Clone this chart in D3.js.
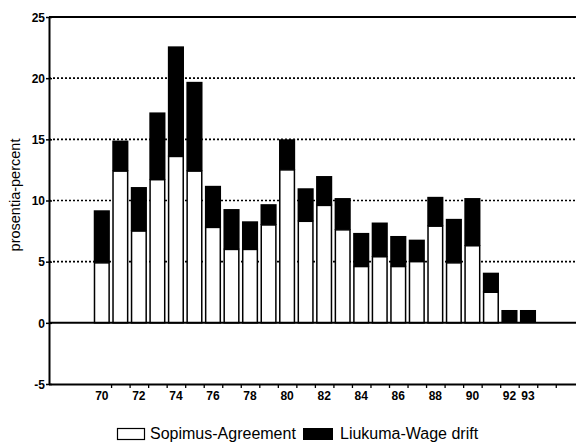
<!DOCTYPE html>
<html>
<head>
<meta charset="utf-8">
<script src="https://cdn.jsdelivr.net/npm/d3@7"></script>
<style>
  html, body { margin: 0; padding: 0; background: #fff; }
  svg { display: block; }
  text { font-family: "Liberation Sans", Arial, Helvetica, sans-serif; fill: #000; }
</style>
</head>
<body>
<svg id="chart" width="576" height="442"></svg>
<script>
const years = [70,71,72,73,74,75,76,77,78,79,80,81,82,83,84,85,86,87,88,89,90,91,92,93];
const agreement = [4.9,12.4,7.5,11.7,13.6,12.4,7.8,6.0,6.0,8.0,12.5,8.3,9.6,7.6,4.6,5.4,4.6,5.0,7.9,4.9,6.3,2.5,0,0];
const wageDrift = [4.3,2.5,3.6,5.5,9.0,7.3,3.4,3.3,2.3,1.7,2.5,2.7,2.4,2.6,2.75,2.8,2.5,1.8,2.4,3.6,3.9,1.6,1.05,1.05];
const xTickLabels = [70,72,74,76,78,80,82,84,86,88,90,92,93];
const yTicks = [-5,0,5,10,15,20,25];
const gridValues = [5,10,15,20];
const seriesNames = ["Sopimus-Agreement", "Liukuma-Wage drift"];
const yTitle = "prosentia-percent";

const svg = d3.select("#chart");
const mLeft = 49, mRight = 578, mTop = 17, mBottom = 384;

const x = d3.scaleLinear().domain([67.15, 95.7]).range([mLeft, mRight]);
const y = d3.scaleLinear().domain([-5, 25]).range([mBottom, mTop]);
const step = x(71) - x(70);
const bw = step - 2.4;

// gridlines
svg.append("g").selectAll("line").data(gridValues).join("line")
  .attr("x1", mLeft).attr("x2", 576)
  .attr("y1", d => y(d)).attr("y2", d => y(d))
  .attr("stroke", "#000").attr("stroke-width", 1.6)
  .attr("stroke-dasharray", "2,2");

// top line
svg.append("line").attr("x1", mLeft).attr("x2", 576).attr("y1", y(25)).attr("y2", y(25))
  .attr("stroke", "#000").attr("stroke-width", 2);

// bars
const data = years.map((yr, i) => ({ yr, a: agreement[i], d: wageDrift[i] }));
const g = svg.append("g");
g.selectAll("rect.drift").data(data).join("rect").attr("class", "drift")
  .attr("x", d => x(d.yr) - bw / 2)
  .attr("width", bw)
  .attr("y", d => y(d.a + d.d))
  .attr("height", d => y(d.a) - y(d.a + d.d))
  .attr("fill", "#000");
g.selectAll("rect.agr").data(data.filter(d => d.a > 0)).join("rect").attr("class", "agr")
  .attr("x", d => x(d.yr) - bw / 2 + 0.75)
  .attr("width", bw - 1.5)
  .attr("y", d => y(d.a))
  .attr("height", d => y(0) - y(d.a))
  .attr("fill", "#fff").attr("stroke", "#000").attr("stroke-width", 1.5);

// zero line on top
svg.append("line").attr("x1", mLeft).attr("x2", 576).attr("y1", y(0)).attr("y2", y(0))
  .attr("stroke", "#000").attr("stroke-width", 2);

// left axis
const yAxis = d3.axisLeft(y).tickValues(yTicks).tickFormat(d => String(d))
  .tickSize(4).tickSizeOuter(0).tickPadding(2);
const ya = svg.append("g").attr("transform", `translate(${mLeft},0)`).call(yAxis);
ya.select(".domain").attr("stroke-width", 2);
ya.selectAll(".tick line").attr("stroke-width", 1.5).attr("x2", 3).attr("x1", -3);
ya.selectAll("text").style("font-size", "12px").style("font-weight", "bold")
  .attr("x", -4).attr("dy", "0.35em");

// bottom axis
const boundaries = d3.range(70.5, 95, 1);
const xb = d3.axisBottom(x).tickValues(boundaries).tickSize(4).tickSizeOuter(0).tickFormat("");
const xa = svg.append("g").attr("transform", `translate(0,${mBottom})`).call(xb);
xa.select(".domain").attr("stroke-width", 2).attr("d", `M${mLeft},0.5H576`);
xa.selectAll(".tick line").attr("stroke-width", 1.3);

svg.append("g").selectAll("text").data(xTickLabels).join("text")
  .attr("x", d => x(d))
  .attr("y", 400)
  .attr("text-anchor", "middle")
  .style("font-size", "12px")
  .style("font-weight", "bold")
  .text(d => d);

// y title
svg.append("text")
  .attr("transform", `translate(20,195) rotate(-90)`)
  .attr("text-anchor", "middle")
  .style("font-size", "14.5px")
  .text(yTitle);

// legend
const lg = svg.append("g");
lg.append("rect").attr("x", 117.5).attr("y", 428.5).attr("width", 27).attr("height", 11)
  .attr("fill", "#fff").attr("stroke", "#000").attr("stroke-width", 1.2);
lg.append("text").attr("x", 150).attr("y", 439).style("font-size", "16px").text(seriesNames[0]);
lg.append("rect").attr("x", 303).attr("y", 428).attr("width", 30).attr("height", 12).attr("fill", "#000");
lg.append("text").attr("x", 340).attr("y", 439).style("font-size", "16px").text(seriesNames[1]);
</script>
</body>
</html>
